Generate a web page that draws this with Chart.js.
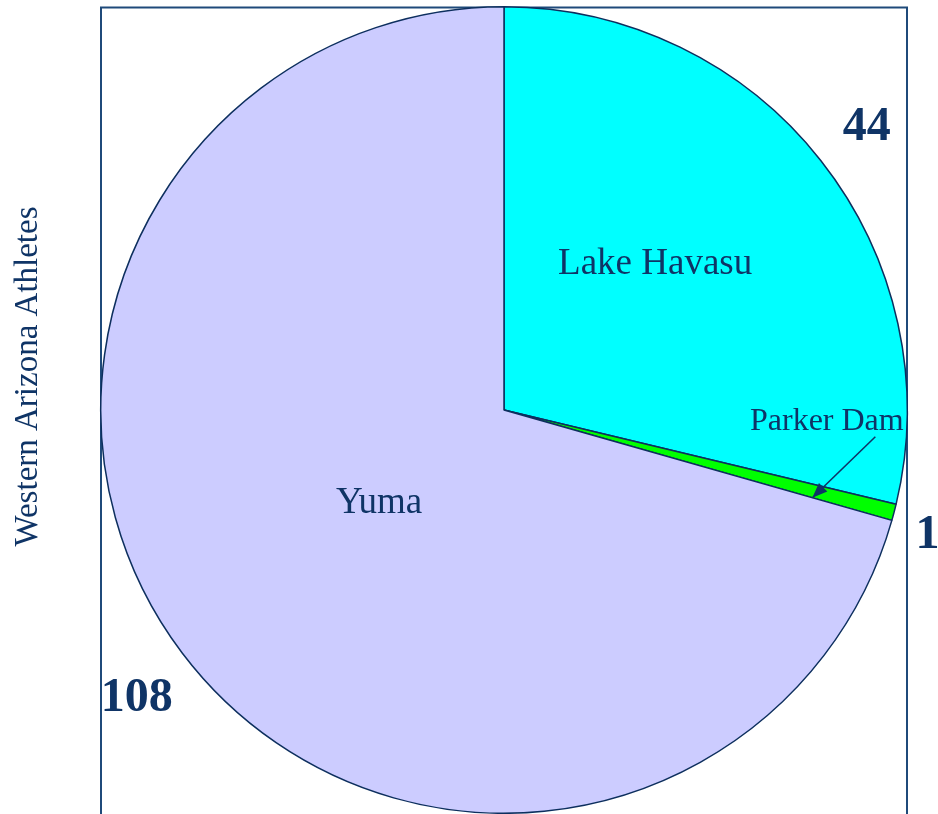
<!DOCTYPE html>
<html>
<head>
<meta charset="utf-8">
<script src="https://cdn.jsdelivr.net/npm/chart.js@4/dist/chart.umd.min.js"></script>
<style>
  html, body { margin: 0; padding: 0; background: #ffffff; }
  #wrap { width: 938px; height: 814px; position: relative; }
</style>
</head>
<body>
<div id="wrap"><canvas id="pie"></canvas></div>
<script>
// Athletes per western Arizona town
const towns = ['Lake Havasu', 'Parker Dam', 'Yuma'];
const athletes = [44, 1, 108];
const sliceColors = ['#00ffff', '#00ff00', '#ccccff'];
const axisTitle = 'Western Arizona Athletes';

const ink = '#0f3466';
const serif = '"Liberation Serif", "Times New Roman", serif';
const textDrop = 3; // glyph centre sits a little below the em-box middle

// Text placement: [fraction of the slice's sweep, fraction of the pie radius]
const namePlace = [[0.44, 0.525], null, [0.505, 0.382]];
const valuePlace = [[0.50, 1.145], [1.09, 1.093], [0.497, 1.153]];
const arrowTipPlace = [1.0, 0.795];

function pointIn(arc, place) {
  const a = arc.startAngle + (arc.endAngle - arc.startAngle) * place[0];
  const r = arc.outerRadius * place[1];
  return { x: arc.x + Math.cos(a) * r, y: arc.y + Math.sin(a) * r };
}

const framePlugin = {
  id: 'frame',
  beforeDatasetsDraw(chart) {
    const { ctx, chartArea } = chart;
    ctx.save();
    ctx.strokeStyle = '#1f4a7a';
    ctx.lineWidth = 2;
    ctx.beginPath();
    ctx.moveTo(chartArea.left + 1, chartArea.bottom + 5);
    ctx.lineTo(chartArea.left + 1, chartArea.top + 1.5);
    ctx.lineTo(chartArea.right - 1, chartArea.top + 1.5);
    ctx.lineTo(chartArea.right - 1, chartArea.bottom + 5);
    ctx.stroke();
    // rotated title on the left
    ctx.translate(25 + textDrop, (chartArea.top + chartArea.bottom) / 2 - 33.5);
    ctx.rotate(-Math.PI / 2);
    ctx.fillStyle = ink;
    ctx.font = '33px ' + serif;
    ctx.textAlign = 'center';
    ctx.textBaseline = 'middle';
    ctx.fillText(axisTitle, 0, 0);
    ctx.restore();
  }
};

const labelPlugin = {
  id: 'sliceLabels',
  afterDatasetsDraw(chart) {
    const { ctx } = chart;
    const arcs = chart.getDatasetMeta(0).data;
    ctx.save();
    ctx.fillStyle = ink;
    ctx.textAlign = 'center';
    ctx.textBaseline = 'middle';
    arcs.forEach((arc, i) => {
      // bold value outside the slice
      const v = pointIn(arc, valuePlace[i]);
      ctx.font = 'bold 48px ' + serif;
      ctx.fillText(String(athletes[i]), v.x, v.y + textDrop);
      // town name inside the slice
      if (namePlace[i]) {
        const n = pointIn(arc, namePlace[i]);
        ctx.font = '37px ' + serif;
        ctx.fillText(towns[i], n.x, n.y + textDrop);
      }
    });
    // the thin slice gets a callout with an arrow
    const tip = pointIn(arcs[1], arrowTipPlace);
    const tail = { x: tip.x + 63, y: tip.y - 61 };
    ctx.font = '32px ' + serif;
    ctx.fillText(towns[1], tip.x + 14.5, tip.y - 79.5 + textDrop);
    ctx.strokeStyle = ink;
    ctx.lineWidth = 1.6;
    ctx.beginPath();
    ctx.moveTo(tail.x, tail.y);
    ctx.lineTo(tip.x, tip.y);
    ctx.stroke();
    const ang = Math.atan2(tip.y - tail.y, tip.x - tail.x);
    const len = 15, wid = 6;
    ctx.beginPath();
    ctx.moveTo(tip.x, tip.y);
    ctx.lineTo(tip.x - len * Math.cos(ang) + wid * Math.sin(ang), tip.y - len * Math.sin(ang) - wid * Math.cos(ang));
    ctx.lineTo(tip.x - len * Math.cos(ang) - wid * Math.sin(ang), tip.y - len * Math.sin(ang) + wid * Math.cos(ang));
    ctx.closePath();
    ctx.fill();
    ctx.restore();
  }
};

new Chart(document.getElementById('pie'), {
  type: 'pie',
  data: {
    labels: towns,
    datasets: [{
      data: athletes,
      backgroundColor: sliceColors,
      borderColor: '#0d2f5e',
      borderWidth: 1.5
    }]
  },
  options: {
    responsive: true,
    maintainAspectRatio: false,
    animation: false,
    layout: { padding: { left: 100, right: 30, top: 6, bottom: 0 } },
    plugins: {
      legend: { display: false },
      tooltip: { enabled: false },
      title: { display: false }
    }
  },
  plugins: [framePlugin, labelPlugin]
});
</script>
</body>
</html>
